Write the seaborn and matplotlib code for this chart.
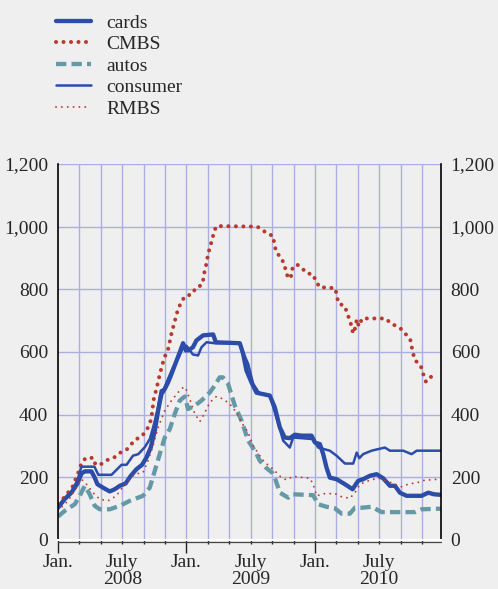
import numpy as np
import pandas as pd
import matplotlib
matplotlib.use("Agg")
import matplotlib.pyplot as plt
from matplotlib.ticker import FixedLocator, FuncFormatter
import seaborn as sns

# months since Jan. 2008
cards_m = [0, 0.63, 1.25, 1.81, 2.19, 2.5, 3.12, 3.43, 3.68, 4.2, 4.83, 5.3, 5.77, 6.3, 6.8,
           7.33, 7.85, 8.26, 8.66, 9.04, 9.35, 9.66, 9.97, 10.28, 10.6, 10.9, 11.37, 11.68,
           11.93, 12.15, 12.6, 12.93, 13.55, 14.49, 14.74, 16.98, 17.29, 17.6, 18.07, 18.54,
           19.78, 20.25, 20.72, 21.18, 21.65, 22.12, 22.75, 23.68, 24.0, 24.46, 24.77, 25.08,
           25.39, 26.02, 26.8, 27.51, 27.82, 28.04, 28.5, 29.13, 29.76, 30.37, 31.0, 31.47,
           31.93, 32.56, 33.96, 34.58, 35.1, 35.77]
cards_v = [103, 131, 151, 180, 212, 219, 219, 199, 178, 167, 155, 162, 173, 180, 205,
           226, 240, 263, 295, 349, 413, 466, 482, 503, 530, 557, 599, 628,
           605, 605, 615, 637, 653, 656, 631, 628, 594, 541, 503, 470,
           461, 423, 359, 327, 325, 336, 333, 333, 311, 306, 274, 231,
           199, 194, 178, 162, 178, 189, 194, 205, 210, 197, 173, 173,
           151, 141, 141, 151, 146, 144]

cmbs_m = [0.07, 0.9, 1.3, 1.65, 1.93, 2.2, 2.6, 3.3, 3.5, 4.1, 4.65, 5.2, 5.77, 6.4, 7.2,
          7.8, 8.3, 8.6, 8.75, 8.95, 9.2, 9.5, 9.9, 10.3, 10.6, 10.8, 11.0, 11.2, 11.5, 11.85,
          12.5, 12.9, 13.4, 13.6, 13.7, 13.9, 14.0, 14.2, 14.4, 14.6, 14.8, 18.6, 19.0, 19.5,
          20.1, 20.2, 20.4, 20.8, 21.1, 21.3, 21.5, 21.75, 21.85, 22.3, 22.8, 23.25, 23.8,
          24.1, 24.45, 25.2, 25.9, 26.05, 26.2, 26.8, 27.0, 27.3, 27.45, 27.6, 27.8, 27.9,
          28.1, 28.4, 30.6, 31.1, 31.65, 32.1, 32.5, 32.9, 33.05, 33.3, 33.9, 34.1, 34.35,
          34.8, 35.2]
cmbs_v = [115, 150, 165, 195, 218, 246, 262, 262, 240, 243, 256, 262, 278, 288, 320,
          330, 352, 374, 397, 451, 483, 528, 579, 611, 659, 685, 710, 736, 758, 778,
          784, 806, 813, 835, 861, 886, 912, 934, 960, 986, 1002, 1000, 992, 979,
          970, 944, 918, 902, 883, 858, 835, 838, 864, 880, 867, 851, 848,
          826, 806, 806, 803, 778, 755, 746, 723, 698, 672, 659, 682, 704,
          682, 707, 707, 691, 682, 672, 656, 640, 614, 576, 554, 531, 506,
          522, 506]

autos_m = [0, 0.63, 1.56, 2.03, 2.5, 2.96, 3.43, 3.9, 4.83, 5.77, 6.7, 7.94, 8.57, 9.04,
           9.5, 9.97, 10.44, 10.9, 11.37, 11.84, 12.15, 12.78, 13.4, 14.18, 14.64, 15.1,
           15.4, 15.89, 16.51, 17.14, 17.76, 18.38, 18.85, 19.48, 20.0, 20.25, 20.72, 21.5,
           21.96, 23.83, 24.3, 25.08, 25.86, 26.49, 27.26, 27.73, 28.36, 29.29, 30.22,
           33.34, 33.96, 35.77]
autos_v = [75, 93, 114, 141, 173, 146, 109, 98, 98, 109, 125, 141, 167, 221,
           274, 327, 354, 402, 445, 458, 418, 429, 445, 471, 493, 519,
           519, 498, 429, 381, 317, 285, 253, 229, 215, 199, 151, 135,
           146, 143, 114, 106, 101, 84, 84, 103, 103, 106, 89,
           89, 98, 100]

consumer_m = [0, 0.63, 1.25, 1.81, 2.19, 3.4, 3.77, 5.0, 5.93, 6.4, 7.0, 7.5, 8.1, 8.57,
              8.88, 9.28, 9.6, 9.9, 10.28, 10.75, 11.28, 11.68, 12.0, 12.6, 13.08, 13.4,
              13.87, 14.65, 16.98, 17.29, 17.76, 18.23, 18.85, 19.78, 20.4, 21.03, 21.65,
              21.96, 23.83, 24.3, 25.39, 26.02, 26.8, 27.57, 27.9, 28.14, 28.5, 29.29,
              29.9, 30.53, 31.0, 32.24, 33.03, 33.5, 35.77]
consumer_v = [103, 131, 155, 190, 234, 234, 208, 208, 240, 240, 269, 274, 296, 322,
              359, 413, 477, 482, 514, 551, 583, 615, 620, 592, 589, 615,
              631, 628, 628, 599, 562, 498, 466, 461, 391, 317, 295,
              327, 322, 295, 285, 269, 244, 244, 279, 261, 274, 285,
              290, 295, 285, 285, 274, 285, 285]

rmbs_m = [0, 0.93, 1.72, 2.19, 2.65, 3.27, 3.9, 4.67, 5.45, 6.23, 7.17, 7.94, 8.41, 8.88,
          9.35, 9.97, 10.6, 11.21, 11.7, 11.9, 12.3, 12.78, 13.25, 13.72, 14.18, 14.8,
          15.42, 16.04, 16.67, 17.14, 17.76, 18.23, 18.85, 19.32, 19.94, 20.41, 20.87,
          21.34, 21.96, 23.52, 23.83, 24.15, 24.92, 25.86, 26.49, 27.26, 27.73, 28.2,
          29.13, 29.9, 30.68, 31.46, 32.08, 32.7, 33.64, 34.27, 34.9, 35.77]
rmbs_v = [93, 125, 167, 194, 178, 151, 130, 125, 141, 178, 210, 215, 253, 301,
          359, 413, 445, 471, 487, 487, 450, 402, 378, 407, 439, 458,
          450, 434, 407, 375, 343, 301, 269, 247, 231, 215, 199,
          192, 203, 197, 178, 141, 148, 148, 138, 133, 151, 178,
          191, 197, 189, 178, 170, 178, 184, 191, 192, 195]

month_labels = {0: "Jan.", 6: "July\n2008", 12: "Jan.", 18: "July\n2009",
                24: "Jan.", 30: "July\n2010"}
y_ticks = [0, 200, 400, 600, 800, 1000, 1200]

BG = "#efefef"
BLUE = "#2b4ca8"
RED = "#b83a2e"
TEAL = "#6699a6"
GRID = "#a9aee3"
FS = 14

sns.set_theme(style="white")
plt.rcParams["font.family"] = ["Liberation Serif", "DejaVu Serif"]
plt.rcParams["font.size"] = FS

fig = plt.figure(figsize=(4.98, 5.89), dpi=100, facecolor=BG)
ax = fig.add_axes([0.1165, 0.0832, 0.769, 0.6384])
ax.set_facecolor(BG)

sns.lineplot(x=cards_m, y=cards_v, ax=ax, color=BLUE, lw=3.1, label="cards",
             solid_joinstyle="round")
sns.lineplot(x=cmbs_m, y=cmbs_v, ax=ax, color=RED, lw=2.9, label="CMBS",
             linestyle=(0, (0.01, 1.85)), dash_capstyle="round")
sns.lineplot(x=autos_m, y=autos_v, ax=ax, color=TEAL, lw=3.1, label="autos",
             linestyle=(0, (2.4, 1.2)), dash_capstyle="butt")
sns.lineplot(x=consumer_m, y=consumer_v, ax=ax, color=BLUE, lw=1.8, label="consumer")
sns.lineplot(x=rmbs_m, y=rmbs_v, ax=ax, color=RED, lw=1.4, label="RMBS",
             linestyle=(0, (0.01, 3.0)), dash_capstyle="round")

ax.set_xlim(0, 35.77)
ax.set_ylim(0, 1200)

# grid: every two months, every 200
for m in range(2, 36, 2):
    ax.axvline(m, color=GRID, lw=1, zorder=0)
for v in y_ticks[1:]:
    ax.axhline(v, color=GRID, lw=1, zorder=0)

ax.set_yticks(y_ticks)
ax.yaxis.set_major_formatter(FuncFormatter(lambda v, p: f"{int(v):,}"))
ax.tick_params(axis="y", length=0, pad=7, labelsize=FS, labelright=True, right=False)

ax.xaxis.set_major_locator(FixedLocator(list(month_labels.keys())))
ax.set_xticklabels(list(month_labels.values()), linespacing=1.02)
ax.xaxis.set_minor_locator(FixedLocator(list(range(0, 36, 2))))
ax.tick_params(axis="x", which="major", length=3, width=1, pad=7, labelsize=FS,
               color="#222222", direction="out", bottom=True)
ax.tick_params(axis="x", which="minor", length=3, width=1, color="#222222",
               direction="out", bottom=True)
for t, m in zip(ax.xaxis.get_major_ticks(), month_labels.keys()):
    if m % 12 == 0:
        t.tick1line.set_markersize(9)

for s in ["left", "right"]:
    ax.spines[s].set_color("black")
    ax.spines[s].set_linewidth(1.2)
ax.spines["top"].set_visible(False)
ax.spines["bottom"].set_color("white")
ax.spines["bottom"].set_linewidth(1.5)
# thin dark rule just under the white axis line
ax.axhline(-7, color="#444444", lw=0.9, clip_on=False, zorder=3)

ax.set_xlabel("")
ax.set_ylabel("")
handles, labels = ax.get_legend_handles_labels()
ax.get_legend().remove()
fig.legend(handles, labels, loc="upper left", bbox_to_anchor=(56 / 498, 1 - 14 / 589),
           frameon=False, fontsize=FS, handlelength=1.8, handletextpad=0.77,
           labelspacing=0.2, borderaxespad=0, borderpad=0)

fig.savefig("out.png", dpi=100, facecolor=BG)
